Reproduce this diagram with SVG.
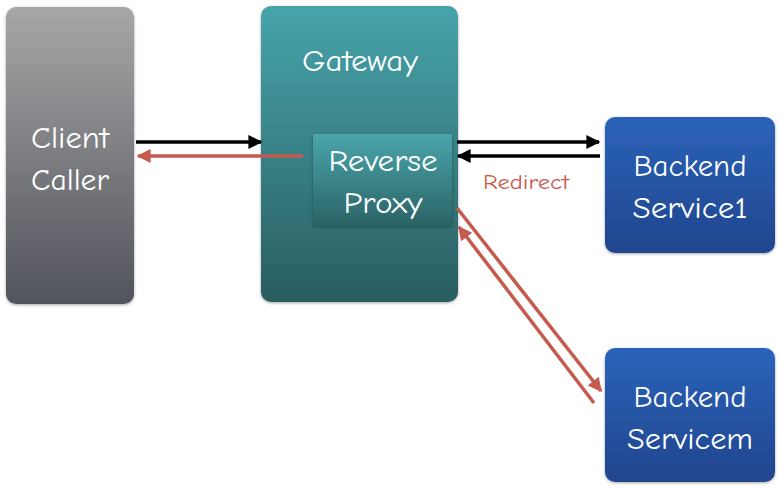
<svg xmlns="http://www.w3.org/2000/svg" width="780" height="489" viewBox="0 0 780 489">
<style>
.lbl{font-family:"Comic Sans MS","Comic Neue","Noto Sans",sans-serif;font-size:30px;font-weight:500;fill:#ffffff;text-anchor:middle}
.red{font-family:"Comic Sans MS","Comic Neue","Noto Sans",sans-serif;font-size:21px;font-weight:400;fill:#c55a4f;text-anchor:middle}
.blk{stroke:#000;stroke-width:3.5;fill:none}
.rd{stroke:#c55a4f;stroke-width:3.5;fill:none}
</style>
<defs>
<linearGradient id="gGray" x1="0" y1="0" x2="0" y2="1"><stop offset="0" stop-color="#a6a7a7"/><stop offset="1" stop-color="#52545c"/></linearGradient>
<linearGradient id="gTeal" x1="0" y1="0" x2="0" y2="1"><stop offset="0" stop-color="#47a4ab"/><stop offset="1" stop-color="#295d60"/></linearGradient>
<linearGradient id="gTeal2" x1="0" y1="0" x2="0" y2="1"><stop offset="0" stop-color="#49a5ab"/><stop offset="1" stop-color="#2b6366"/></linearGradient>
<linearGradient id="gBlue" x1="0" y1="0" x2="0" y2="1"><stop offset="0" stop-color="#2b63b9"/><stop offset="1" stop-color="#21458e"/></linearGradient>
<filter id="sh" x="-10%" y="-10%" width="120%" height="120%"><feDropShadow dx="0" dy="1" stdDeviation="1.5" flood-color="#000" flood-opacity="0.35"/></filter>
<marker id="aB" viewBox="0 0 10 10" refX="9" refY="5" markerWidth="4.5" markerHeight="4" markerUnits="strokeWidth" orient="auto"><path d="M0,0 L10,5 L0,10 z" fill="#000"/></marker>
<marker id="aR" viewBox="0 0 10 10" refX="9" refY="5" markerWidth="4.5" markerHeight="4" markerUnits="strokeWidth" orient="auto"><path d="M0,0 L10,5 L0,10 z" fill="#c55a4f"/></marker>
</defs>
<g id="client"><rect x="6" y="7" width="128" height="297" rx="10" fill="url(#gGray)" filter="url(#sh)"/><text class="lbl" x="70" y="148" textLength="78" lengthAdjust="spacingAndGlyphs">Client</text><text class="lbl" x="70" y="190" textLength="78" lengthAdjust="spacingAndGlyphs">Caller</text></g>
<g id="gateway"><rect x="261" y="6" width="197" height="296" rx="10" fill="url(#gTeal)" filter="url(#sh)"/><text class="lbl" x="360" y="71" textLength="116" lengthAdjust="spacingAndGlyphs">Gateway</text></g>
<g id="proxy"><rect x="313" y="134" width="139" height="92" fill="url(#gTeal2)" filter="url(#sh)"/><text class="lbl" x="383" y="171" textLength="109" lengthAdjust="spacingAndGlyphs">Reverse</text><text class="lbl" x="383" y="213" textLength="79" lengthAdjust="spacingAndGlyphs">Proxy</text></g>
<g id="service1"><rect x="605" y="117" width="170" height="136" rx="10" fill="url(#gBlue)" filter="url(#sh)"/><text class="lbl" x="690" y="176" textLength="113" lengthAdjust="spacingAndGlyphs">Backend</text><text class="lbl" x="690" y="218" textLength="115" lengthAdjust="spacingAndGlyphs">Service1</text></g>
<g id="servicem"><rect x="605" y="348" width="170" height="134" rx="10" fill="url(#gBlue)" filter="url(#sh)"/><text class="lbl" x="690" y="407" textLength="113" lengthAdjust="spacingAndGlyphs">Backend</text><text class="lbl" x="690" y="449" textLength="126" lengthAdjust="spacingAndGlyphs">Servicem</text></g>
<g id="connectors">
<line class="blk" x1="136" y1="142" x2="261" y2="142" marker-end="url(#aB)"/>
<line class="rd" x1="303" y1="156" x2="138" y2="156" marker-end="url(#aR)"/>
<line class="blk" x1="457" y1="142" x2="599" y2="142" marker-end="url(#aB)"/>
<line class="blk" x1="600" y1="156" x2="458" y2="156" marker-end="url(#aB)"/>
<line class="rd" x1="457" y1="208" x2="601" y2="391" marker-end="url(#aR)"/>
<line class="rd" x1="594" y1="403" x2="459" y2="227" marker-end="url(#aR)"/>
<text class="red" x="526" y="189" textLength="86" lengthAdjust="spacingAndGlyphs">Redirect</text>
</g>
</svg>
